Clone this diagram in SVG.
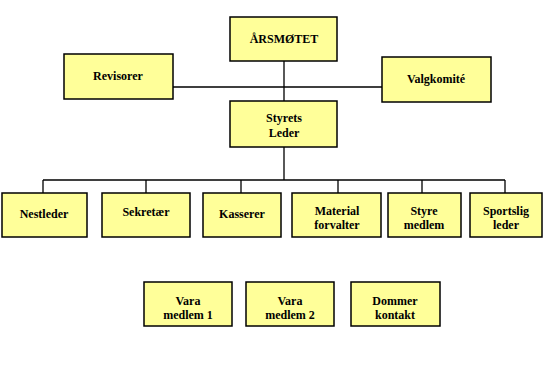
<svg xmlns="http://www.w3.org/2000/svg" width="543" height="375" viewBox="0 0 543 375">
<style>
.b{fill:#FFFF99;stroke:#000;stroke-width:1.5}
.t{font-family:'Liberation Serif','Times New Roman','DejaVu Serif',serif;font-weight:bold;font-size:12px;fill:#000;text-anchor:middle}
.c{stroke:#000;stroke-width:1.3;fill:none}
</style>
<rect width="543" height="375" fill="#fff"/>
<g id="connectors">
<path class="c" d="M173,87H382M284,61V101M284,147V180M43,180H505M43,180V193M146,180V193M241,180V193M338,180V193M422,180V193M505,180V193"/>
</g>
<g id="arsmotet"><rect class="b" x="230" y="17" width="107" height="44"/><text class="t" x="284" y="43">ÅRSMØTET</text></g>
<g id="revisorer"><rect class="b" x="64" y="54" width="109" height="45"/><text class="t" x="118" y="80">Revisorer</text></g>
<g id="valgkomite"><rect class="b" x="382" y="57" width="109" height="45"/><text class="t" x="436" y="83">Valgkomité</text></g>
<g id="styrets"><rect class="b" x="230" y="101" width="107" height="46"/><text class="t" x="284" y="122">Styrets</text><text class="t" x="284" y="137">Leder</text></g>
<g id="nestleder"><rect class="b" x="2" y="193" width="85" height="44"/><text class="t" x="44" y="218">Nestleder</text></g>
<g id="sekretaer"><rect class="b" x="102" y="193" width="88" height="44"/><text class="t" x="146" y="216">Sekretær</text></g>
<g id="kasserer"><rect class="b" x="203" y="193" width="78" height="44"/><text class="t" x="242" y="218">Kasserer</text></g>
<g id="material"><rect class="b" x="292" y="193" width="89" height="44"/><text class="t" x="337" y="215">Material</text><text class="t" x="337" y="229">forvalter</text></g>
<g id="styre"><rect class="b" x="388" y="193" width="73" height="44"/><text class="t" x="424" y="215">Styre</text><text class="t" x="424" y="229">medlem</text></g>
<g id="sportslig"><rect class="b" x="470" y="193" width="72" height="44"/><text class="t" x="506" y="215">Sportslig</text><text class="t" x="506" y="229">leder</text></g>
<g id="vara1"><rect class="b" x="144" y="282" width="88" height="44"/><text class="t" x="188" y="305">Vara</text><text class="t" x="188" y="319">medlem 1</text></g>
<g id="vara2"><rect class="b" x="246" y="282" width="88" height="44"/><text class="t" x="290" y="305">Vara</text><text class="t" x="290" y="319">medlem 2</text></g>
<g id="dommer"><rect class="b" x="351" y="282" width="89" height="44"/><text class="t" x="395" y="305">Dommer</text><text class="t" x="395" y="319">kontakt</text></g>
</svg>
